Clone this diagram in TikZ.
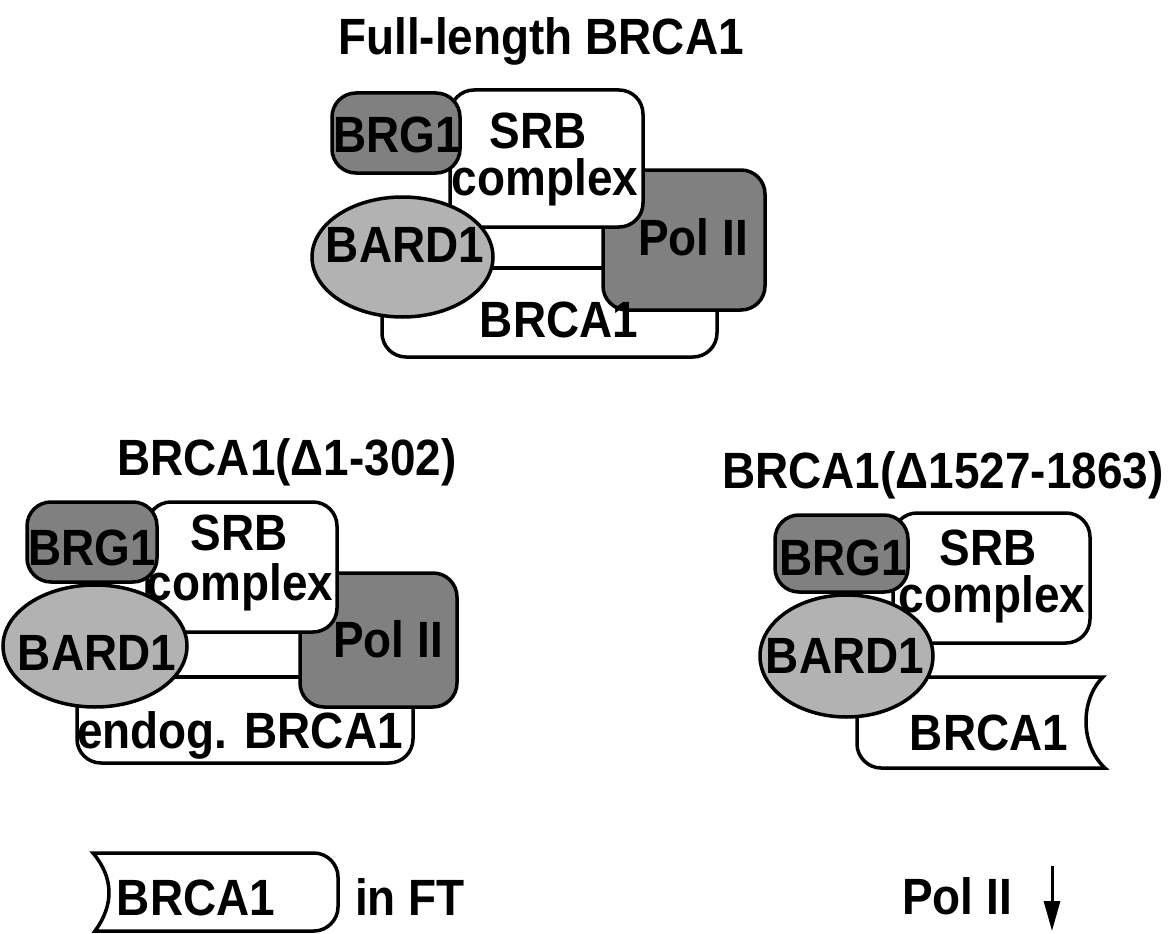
\documentclass[tikz,border=0pt]{standalone}
\usepackage{fontspec}
\setmainfont{Liberation Sans}
\newfontfamily\labfont[FakeStretch=0.9]{Liberation Sans}
\usetikzlibrary{shapes.geometric,arrows.meta}

\begin{document}
\begin{tikzpicture}[x=1pt,y=-1pt,
    box/.style={draw,line width=3.5pt,rounded corners=24pt,inner sep=0pt,fill=white},
    darkbox/.style={box,fill=black!50},
    oval/.style={draw,line width=3.5pt,ellipse,inner sep=0pt,fill=black!30},
    band/.style={draw,line width=3.5pt,inner sep=0pt,fill=white},
    frag/.style={draw,line width=3.5pt,fill=white},
    lab/.style={anchor=base,inner sep=0pt,font=\labfont\fontsize{51}{53}\selectfont\bfseries}]
    \useasboundingbox (0,0) rectangle (1168,934);

    % full-length complex
    \node[lab] (titleA) at (541,55) {Full-length BRCA1};
    \node[box, minimum width=335pt, minimum height=89pt] (brcaA) at (549.5,312.5) {};
    \node[band, minimum width=170pt, minimum height=53pt] (bandA) at (545,241.5) {};
    \node[darkbox, minimum width=162pt, minimum height=140pt] (polA) at (684,240) {};
    \node[box, minimum width=193pt, minimum height=137pt] (srbA) at (546.5,158.5) {};
    \node[darkbox, minimum width=128pt, minimum height=80pt] (brgA) at (396,133) {};
    \node[oval, minimum width=181pt, minimum height=120pt] (bardA) at (402.5,257) {};
    \node[lab] (brgAt) at (397,152) {BRG1};
    \node[lab] (srbAt) at (538,148) {SRB};
    \node[lab] (cpxAt) at (545,195) {complex};
    \node[lab] (bardAt) at (405,262) {BARD1};
    \node[lab] (polAt) at (693,255) {Pol II};
    \node[lab] (brcaAt) at (559,337) {BRCA1};

    % delta 1-302
    \node[lab] (titleB) at (287,475) {BRCA1(Δ1-302)};
    \node[band, minimum width=180pt, minimum height=62pt] (bandB) at (240,646) {};
    \node[box, minimum width=336pt, minimum height=86pt] (brcaB) at (245,720) {};
    \node[darkbox, minimum width=157pt, minimum height=134pt] (polB) at (378.5,640) {};
    \node[box, minimum width=190pt, minimum height=130pt] (srbB) at (242,567) {};
    \node[darkbox, minimum width=130pt, minimum height=80pt] (brgB) at (92,542) {};
    \node[oval, minimum width=184pt, minimum height=122pt] (bardB) at (95,646) {};
    \node[lab] (brgBt) at (92,565) {BRG1};
    \node[lab] (srbBt) at (239,550) {SRB};
    \node[lab] (cpxBt) at (240,600) {complex};
    \node[lab] (bardBt) at (97,670) {BARD1};
    \node[lab] (polBt) at (388,657) {Pol II};
    \node[lab] (brcaBt) at (240,748) {endog. BRCA1};

    % delta 1527-1863
    \node[lab] (titleC) at (943,488) {BRCA1(Δ1527-1863)};
    \draw[frag] (1103,677) -- (881,677) .. controls (868,677) and (857,688) .. (857,701)
      -- (857,744) .. controls (857,757) and (868,768) .. (881,768) -- (1105,768)
      .. controls (1080,745) and (1080,700) .. (1103,677) -- cycle;
    \node[box, minimum width=197pt, minimum height=130pt] (srbC) at (991.5,578) {};
    \node[darkbox, minimum width=133pt, minimum height=77pt] (brgC) at (841.5,553.5) {};
    \node[oval, minimum width=173pt, minimum height=122pt] (bardC) at (846.5,656) {};
    \node[lab] (brgCt) at (843,575) {BRG1};
    \node[lab] (srbCt) at (988,565) {SRB};
    \node[lab] (cpxCt) at (992,612) {complex};
    \node[lab] (bardCt) at (845,673) {BARD1};
    \node[lab] (brcaCt) at (989,750) {BRCA1};

    % legend
    \draw[frag] (93,853) -- (314,853) .. controls (327,853) and (338,864) .. (338,877)
      -- (338,907) .. controls (338,920) and (327,931) .. (314,931) -- (95,931)
      .. controls (114,905) and (114,878) .. (93,853) -- cycle;
    \node[lab] (brcaD) at (196,915) {BRCA1};
    \node[lab] (inft) at (410,915) {in FT};
    \node[lab] (polD) at (957,914) {Pol II};
    \coordinate (arrtop) at (1052,866);
    \coordinate (arrbot) at (1052,931);
    \draw[line width=3pt,-{Triangle[length=30pt,width=16pt]}] (arrtop) -- (arrbot);
\end{tikzpicture}
\end{document}
